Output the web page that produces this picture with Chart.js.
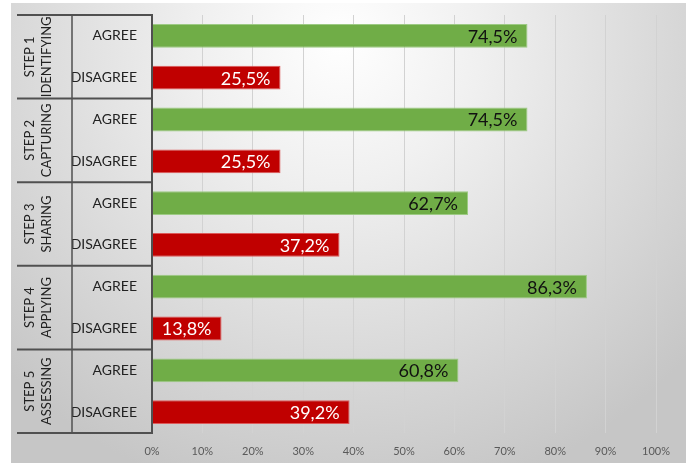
<!DOCTYPE html>
<html>
<head>
<meta charset="utf-8">
<script src="https://cdn.jsdelivr.net/npm/chart.js@4.4.0/dist/chart.umd.min.js"></script>
<style>
  html, body { margin: 0; padding: 0; background: #ffffff; }
  #wrap { width: 686px; height: 463px; position: relative; }
</style>
</head>
<body>
<div id="wrap"><canvas id="c" width="686" height="463"></canvas></div>
<script>
const steps = ['STEP 1', 'STEP 2', 'STEP 3', 'STEP 4', 'STEP 5'];
const stepNames = ['IDENTIFYING', 'CAPTURING', 'SHARING', 'APPLYING', 'ASSESSING'];
const responses = ['AGREE', 'DISAGREE'];
const agree = [74.5, 74.5, 62.7, 86.3, 60.8];
const disagree = [25.5, 25.5, 37.2, 13.8, 39.2];
const xTicks = [0, 10, 20, 30, 40, 50, 60, 70, 80, 90, 100];

const labels = [];
const values = [];
const fills = [];
const borders = [];
const textColors = [];
steps.forEach((s, i) => {
  labels.push(responses[0]); values.push(agree[i]);
  fills.push('#70AD47'); borders.push('#9dca84'); textColors.push('#111111');
  labels.push(responses[1]); values.push(disagree[i]);
  fills.push('#C00000'); borders.push('#dd5a5a'); textColors.push('#ffffff');
});

const bgPlugin = {
  id: 'bg',
  beforeDraw(chart) {
    const ctx = chart.ctx;
    ctx.save();
    const g = ctx.createRadialGradient(340, 40, 0, 340, 40, 470);
    g.addColorStop(0, '#ffffff');
    g.addColorStop(0.3, '#f0f0f0');
    g.addColorStop(1, '#c6c6c6');
    ctx.fillStyle = g;
    ctx.fillRect(11, 3, 675, 460);
    ctx.restore();
  }
};

const tablePlugin = {
  id: 'table',
  afterDraw(chart) {
    const ctx = chart.ctx;
    const y = chart.scales.y;
    const area = chart.chartArea;
    const rowH = (y.bottom - y.top) / labels.length;
    const left = 17, mid = 72, right = area.left;
    ctx.save();
    ctx.strokeStyle = '#505050';
    ctx.lineWidth = 2;
    for (let g = 0; g <= steps.length; g++) {
      const yy = y.top + g * 2 * rowH;
      ctx.beginPath();
      ctx.moveTo(left, yy);
      ctx.lineTo(right, yy);
      ctx.stroke();
    }
    ctx.lineWidth = 1.5;
    ctx.beginPath();
    ctx.moveTo(mid, y.top);
    ctx.lineTo(mid, y.bottom);
    ctx.stroke();
    ctx.lineWidth = 2;
    ctx.beginPath();
    ctx.moveTo(right, y.top - 1);
    ctx.lineTo(right, y.bottom + 1);
    ctx.stroke();
    ctx.fillStyle = '#222222';
    ctx.font = '13px Lato, "Open Sans", sans-serif';
    ctx.textAlign = 'center';
    ctx.textBaseline = 'middle';
    steps.forEach((s, i) => {
      const cy = (y.getPixelForValue(2 * i) + y.getPixelForValue(2 * i + 1)) / 2;
      ctx.save();
      ctx.translate(30, cy);
      ctx.rotate(-Math.PI / 2);
      ctx.fillText(s, 0, 0);
      ctx.restore();
      ctx.save();
      ctx.translate(47, cy);
      ctx.rotate(-Math.PI / 2);
      ctx.fillText(stepNames[i], 0, 0);
      ctx.restore();
    });
    ctx.restore();
  }
};

const valueLabels = {
  id: 'valueLabels',
  afterDatasetsDraw(chart) {
    const ctx = chart.ctx;
    const meta = chart.getDatasetMeta(0);
    ctx.save();
    ctx.font = '18px Lato, "Open Sans", sans-serif';
    ctx.textAlign = 'right';
    ctx.textBaseline = 'middle';
    meta.data.forEach((bar, i) => {
      ctx.fillStyle = textColors[i];
      const txt = values[i].toFixed(1).replace('.', ',') + '%';
      ctx.fillText(txt, bar.x - 10, bar.y + 1);
    });
    ctx.restore();
  }
};

new Chart(document.getElementById('c'), {
  type: 'bar',
  data: {
    labels: labels,
    datasets: [{
      data: values,
      backgroundColor: fills,
      borderColor: borders,
      borderWidth: 1,
      barPercentage: 0.57,
      categoryPercentage: 1.0
    }]
  },
  options: {
    indexAxis: 'y',
    responsive: false,
    animation: false,
    devicePixelRatio: 1,
    layout: { padding: { left: 12, top: 15, right: 30, bottom: 0 } },
    plugins: { legend: { display: false }, tooltip: { enabled: false } },
    scales: {
      x: {
        min: 0, max: 100,
        afterBuildTicks(scale) { scale.ticks = xTicks.map(v => ({ value: v })); },
        afterFit(scale) { scale.height = 30; },
        grid: { color: '#d2d2d2', lineWidth: 1, drawTicks: false },
        border: { display: false },
        ticks: {
          padding: 12,
          color: '#595959',
          font: { family: 'Lato, "Open Sans", sans-serif', size: 11 },
          callback: v => v + '%'
        }
      },
      y: {
        afterFit(scale) { scale.width = 140; scale.paddingTop = 0; scale.paddingBottom = 0; },
        grid: { display: false, drawTicks: false },
        border: { display: false },
        ticks: {
          padding: 15,
          color: '#222222',
          font: { family: 'Lato, "Open Sans", sans-serif', size: 14 }
        }
      }
    }
  },
  plugins: [bgPlugin, tablePlugin, valueLabels]
});
</script>
</body>
</html>
